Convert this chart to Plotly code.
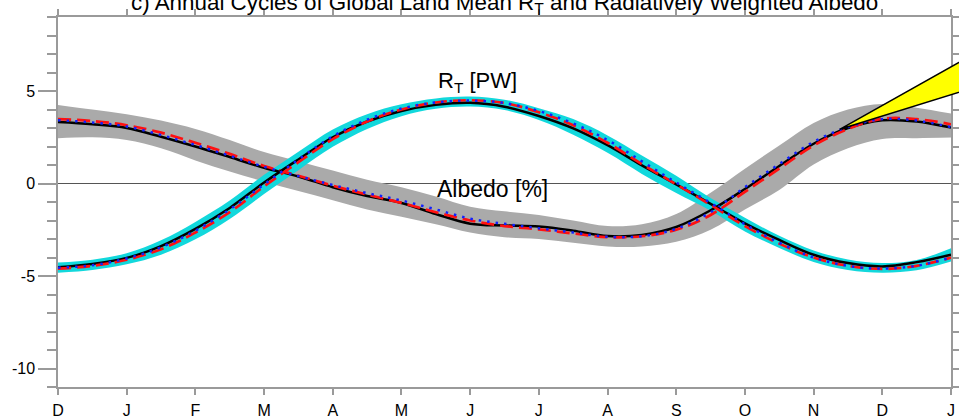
import plotly.graph_objects as go

# ---------------- data ----------------
months = [0, 0.5, 1, 1.5, 2, 2.5, 3, 3.5, 4, 4.5, 5, 5.5, 6, 6.5, 7, 7.5, 8, 8.5, 9,
          9.5, 10, 10.5, 11, 11.5, 12, 12.5, 13]
tick_pos = list(range(14))
tick_labels = ["D", "J", "F", "M", "A", "M", "J", "J", "A", "S", "O", "N", "D", "J"]

# R_T [PW]
rt_obs = [-4.53, -4.35, -4.02, -3.38, -2.45, -1.32, 0.05, 1.30, 2.50, 3.35, 3.92, 4.25, 4.36,
          4.15, 3.65, 2.98, 2.07, 0.98, -0.05, -1.10, -2.15, -3.05, -3.85, -4.30, -4.48, -4.25, -3.85]
rt_red = [-4.60, -4.45, -4.12, -3.55, -2.65, -1.55, -0.15, 1.15, 2.40, 3.35, 4.00, 4.38, 4.50,
          4.35, 3.85, 3.15, 2.20, 1.05, -0.05, -1.15, -2.30, -3.25, -4.00, -4.45, -4.62, -4.45, -4.00]
rt_blue = [-4.55, -4.42, -4.05, -3.45, -2.55, -1.40, -0.05, 1.30, 2.55, 3.45, 4.05, 4.38, 4.48,
           4.35, 3.92, 3.25, 2.35, 1.20, 0.05, -1.05, -2.20, -3.20, -4.00, -4.45, -4.60, -4.45, -4.00]
rt_upper = [-4.27, -4.12, -3.77, -3.07, -2.08, -0.92, 0.47, 1.72, 2.92, 3.75, 4.28, 4.60, 4.70,
            4.53, 4.07, 3.48, 2.60, 1.52, 0.42, -0.78, -1.85, -2.83, -3.62, -4.11, -4.30, -4.13, -3.50]
rt_lower = [-4.83, -4.68, -4.37, -3.85, -3.02, -1.92, -0.57, 0.72, 1.98, 2.95, 3.64, 4.04, 4.16,
            3.97, 3.43, 2.64, 1.66, 0.52, -0.52, -1.47, -2.59, -3.49, -4.24, -4.67, -4.82, -4.69, -4.22]

# Radiatively weighted albedo [%]
alb_obs = [3.32, 3.20, 3.00, 2.53, 2.00, 1.43, 0.85, 0.38, -0.20, -0.68, -1.05, -1.65, -2.17,
           -2.27, -2.33, -2.55, -2.84, -2.78, -2.35, -1.45, -0.30, 0.95, 2.15, 3.00, 3.42, 3.35, 3.02]
alb_red = [3.48, 3.38, 3.15, 2.75, 2.20, 1.60, 0.95, 0.42, -0.12, -0.60, -1.05, -1.55, -2.00,
           -2.30, -2.48, -2.70, -2.90, -2.85, -2.50, -1.70, -0.45, 0.80, 2.05, 2.95, 3.50, 3.48, 3.20]
alb_blue = [3.42, 3.30, 3.08, 2.62, 2.08, 1.50, 0.90, 0.40, -0.08, -0.52, -0.92, -1.40, -1.90,
            -2.18, -2.42, -2.65, -2.88, -2.85, -2.45, -1.55, -0.20, 1.05, 2.25, 3.05, 3.48, 3.40, 3.05]
alb_upper = [4.25, 4.00, 3.75, 3.40, 2.95, 2.35, 1.70, 1.20, 0.70, 0.20, -0.20, -0.70, -1.25,
             -1.50, -1.70, -2.00, -2.30, -2.20, -1.65, -0.50, 0.80, 2.05, 3.27, 4.00, 4.30, 4.10, 3.78]
alb_lower = [2.45, 2.50, 2.35, 1.90, 1.25, 0.65, 0.10, -0.40, -0.90, -1.40, -1.80, -2.20, -2.65,
             -2.90, -3.00, -3.20, -3.40, -3.40, -3.15, -2.50, -1.40, -0.35, 1.03, 1.90, 2.40, 2.45, 2.48]

# pointer wedge (month, value)
wedge_x = [11.38, 13.5, 13.5]
wedge_y = [2.93, 7.34, 5.37]

X_RANGE = [0, 13]
Y_RANGE = [-11, 9]

# ---------------- figure ----------------
fig = go.Figure()

def band(lower, upper, color):
    fig.add_trace(go.Scatter(x=months, y=lower, mode="lines", line=dict(width=0, shape="spline"),
                             hoverinfo="skip", showlegend=False))
    fig.add_trace(go.Scatter(x=months, y=upper, mode="lines", line=dict(width=0, shape="spline"),
                             fill="tonexty", fillcolor=color, hoverinfo="skip", showlegend=False))

band(alb_lower, alb_upper, "#aaaaaa")
band(rt_lower, rt_upper, "#12d8dc")

for obs, red, blue in [(alb_obs, alb_red, alb_blue), (rt_obs, rt_red, rt_blue)]:
    fig.add_trace(go.Scatter(x=months, y=obs, mode="lines",
                             line=dict(color="black", width=2.5, shape="spline"), showlegend=False))
    fig.add_trace(go.Scatter(x=months, y=red, mode="lines",
                             line=dict(color="#ff1010", width=2.7, shape="spline", dash="13px,6px"),
                             showlegend=False))
    fig.add_trace(go.Scatter(x=months, y=blue, mode="lines",
                             line=dict(color="#1020ff", width=2.5, shape="spline", dash="2.5px,6px"),
                             showlegend=False))

# wedge (paper coords so it can extend beyond the frame)
def px(v):
    return (v - X_RANGE[0]) / (X_RANGE[1] - X_RANGE[0])

def py(v):
    return (v - Y_RANGE[0]) / (Y_RANGE[1] - Y_RANGE[0])

path = "M {} {} L {} {} L {} {} Z".format(px(wedge_x[0]), py(wedge_y[0]), px(wedge_x[1]), py(wedge_y[1]),
                                         px(wedge_x[2]), py(wedge_y[2]))
fig.add_shape(type="path", path=path, xref="paper", yref="paper", fillcolor="#ffff00",
              line=dict(color="black", width=1.5), layer="above")

FONT = "Liberation Sans, Arial, Helvetica, sans-serif"

fig.add_annotation(x=5.51, y=5.5, xref="x", yref="y", text="R<sub>T</sub> [PW]", showarrow=False,
                   xanchor="left", yanchor="middle", font=dict(family=FONT, size=22, color="black"))
fig.add_annotation(x=5.49, y=-0.3, xref="x", yref="y", text="Albedo [%]", showarrow=False,
                   xanchor="left", yanchor="middle", font=dict(family=FONT, size=23, color="black"))
fig.add_annotation(x=0.5, y=1, xref="paper", yref="paper", yanchor="bottom", yshift=-3,
                   text="c) Annual Cycles of Global Land Mean R<sub>T</sub> and Radiatively Weighted Albedo",
                   showarrow=False, font=dict(family=FONT, size=22.4, color="black"))

AXIS_COLOR = "#9a9a9a"
fig.update_xaxes(range=X_RANGE, tickvals=tick_pos, ticktext=tick_labels, ticks="outside", ticklen=6,
                 tickcolor=AXIS_COLOR, tickwidth=1.5, showline=True, linecolor=AXIS_COLOR, linewidth=1.5,
                 mirror="allticks", showgrid=False, zeroline=False, ticklabelstandoff=2,
                 automargin=False, tickfont=dict(family=FONT, size=16, color="black"))
fig.update_yaxes(range=Y_RANGE, tickvals=[-10, -5, 0, 5], ticktext=["-10", "-5", "0", "5"],
                 ticks="outside", ticklen=18, tickcolor=AXIS_COLOR, tickwidth=1.5,
                 minor=dict(dtick=1, tick0=0, ticks="outside", ticklen=9, tickcolor=AXIS_COLOR,
                            tickwidth=1.5, showgrid=False),
                 showline=True, linecolor=AXIS_COLOR, linewidth=1.5, mirror="allticks",
                 showgrid=False, zeroline=True, zerolinecolor="#555555", zerolinewidth=1,
                 automargin=False, tickfont=dict(family=FONT, size=16, color="black"))

fig.update_layout(width=959, height=418, margin=dict(l=58, r=8, t=17, b=31, autoexpand=False),
                  paper_bgcolor="white", plot_bgcolor="white", showlegend=False)

fig.write_html("out.html")
